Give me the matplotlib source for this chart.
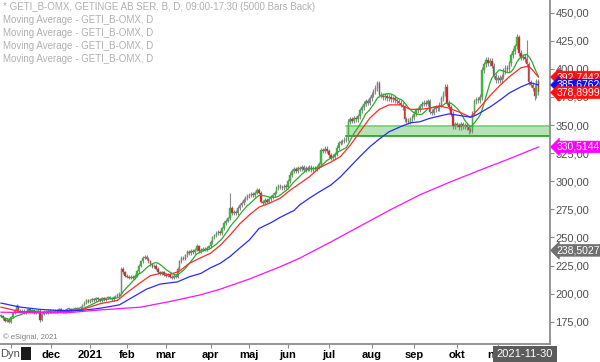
import numpy as np
import pandas as pd
import matplotlib
matplotlib.use("Agg")
import matplotlib.pyplot as plt
import matplotlib.transforms as mtransforms
from matplotlib.patches import Rectangle

plt.rcParams['font.family'] = ['Liberation Sans', 'DejaVu Sans']

# trading days shown (Stockholm holidays removed)
holidays = ['2020-12-24', '2020-12-25', '2020-12-31', '2021-01-01', '2021-01-06',
            '2021-04-02', '2021-04-05', '2021-05-13', '2021-06-25']
dates = pd.bdate_range('2020-10-26', '2021-11-30')
dates = dates[~dates.isin(pd.to_datetime(holidays))]

# daily closes
close = [180, 178, 176, 177, 175, 179, 183, 185, 189, 185, 184, 185, 183, 184, 186, 184, 185, 183, 184, 185,
         177, 182, 184, 183, 185, 184,
         184, 185, 184, 185, 186, 185, 184, 185, 186, 186, 185, 186, 187, 186, 187, 188, 190, 192, 194, 193,
         194,
         195, 194, 196, 195, 194, 196, 195, 196, 197, 196, 195, 197, 198, 199, 200, 222, 219, 216,
         215, 214, 215, 214, 216, 220, 225, 229, 232, 233, 231, 229, 226, 224, 225, 222, 219, 218, 219, 217,
         216, 217, 215, 214, 216, 215, 222, 229, 232, 231,
         234, 237, 236, 238, 237, 239, 242, 238, 239, 240, 239, 241, 242, 246, 250, 252, 254,
         255, 254, 258, 263, 265, 267, 276, 272, 273, 272, 276, 279, 281, 283, 285, 287,
         288, 289, 288, 290, 292, 290, 282, 281, 283, 282, 284, 286, 288, 290, 294, 296, 295, 294, 296, 295,
         300, 306, 309, 311, 309, 312, 311, 313, 310, 312, 311, 313, 310, 312, 311, 313, 315, 328, 327, 329,
         327,
         323, 321, 322, 324, 330, 334, 335, 336, 337, 338, 353, 355, 354, 356, 355, 358, 363, 366, 369, 371,
         370, 374,
         377, 380, 383, 387, 377, 376, 375, 376, 374, 375, 373, 374, 372, 371, 370, 368, 366, 355, 354, 353,
         355, 357,
         360, 363, 364, 367, 369, 370, 369, 371, 362, 361, 364, 366, 365, 368, 374, 378, 384, 370, 366, 360,
         349, 351,
         350, 348, 351, 349, 350, 348, 346, 345, 360, 371, 373, 372, 375, 399, 404, 408, 405, 407, 403, 394,
         390,
         392, 390, 393, 398, 401, 400, 405, 412, 416, 420, 428, 414, 410, 411, 409, 404, 388, 386, 383, 376,
         389, 379]
assert len(close) == len(dates)

# notable wick extremes (bar index: price)
spike_high = {8: 191, 101: 244, 118: 290, 266: 431, 271: 426}
spike_low = {20: 175, 241: 342, 275: 372}

# moving averages (bar index, value)
red_idx = [0, 5, 10, 20, 34, 42, 51, 60, 65, 72, 77, 82, 87, 92, 97, 103, 108, 113, 118, 123, 128, 133, 139,
           144, 149, 154, 159, 164, 170, 175, 180, 185, 190, 195, 200, 206, 211, 216, 221, 226, 231, 237, 242,
           247, 252, 257, 262, 268, 272, 274, 277]
red_ma = [188, 186, 184, 183.5, 184, 186, 191, 194, 201, 210, 216, 218, 217, 220, 227, 232, 236, 243, 252, 262,
          270, 277, 281, 285, 292, 298, 304, 312, 317, 322, 332, 344, 356, 364, 368, 368, 364, 364, 365, 367,
          365, 361, 357, 366, 376, 385, 393, 401, 402.5, 399, 392.7]
blue_idx = [0, 10, 20, 30, 41, 51, 61, 67, 75, 82, 91, 97, 103, 108, 113, 118, 123, 128, 133, 139, 144, 151,
            154, 159, 164, 170, 175, 180, 185, 190, 195, 200, 206, 211, 216, 221, 231, 242, 245, 252, 257, 262,
            268, 273, 277]
blue_ma = [191.6, 188, 186, 185, 185, 187, 190, 196, 204, 208.5, 210.5, 215, 218, 223, 227, 233, 240.5, 247.7,
           258, 263, 268, 274, 279, 285, 290.5, 296.6, 304, 313, 322, 330.5, 337.6, 344, 348.6, 352, 353, 356,
           360, 357, 359, 366, 372, 378.5, 384, 387.6, 385.7]
mag_idx = [0, 20, 34, 51, 72, 87, 103, 113, 128, 144, 154, 170, 185, 200, 216, 231, 247, 262, 277]
mag_ma = [183.5, 183, 183, 185.5, 188, 193, 199, 204, 213, 224, 231.6, 246, 260, 274, 288, 299, 310, 320, 330.5]

# support zone
zone_start = 178
zone_lo, zone_hi = 340.3, 349.2

# price tags on the right axis
tags = [(392.74429, '392,74429', '#ff1010'),
        (385.67620, '385,67620', '#1010ff'),
        (378.89999, '378,89999', '#ff1010'),
        (330.51447, '330,51447', '#ff00ff'),
        (238.50272, '238,50272', '#707070')]

header = ['* GETI_B-OMX, GETINGE AB SER. B, D, 09:00-17:30 (5000 Bars Back)',
          'Moving Average - GETI_B-OMX, D',
          'Moving Average - GETI_B-OMX, D',
          'Moving Average - GETI_B-OMX, D',
          'Moving Average - GETI_B-OMX, D']

month_names = {1: '2021', 2: 'feb', 3: 'mar', 4: 'apr', 5: 'maj', 6: 'jun', 7: 'jul', 8: 'aug',
               9: 'sep', 10: 'okt', 11: 'nov', 12: 'dec'}

# ---- build candles
c = np.array(close, dtype=float)
o = np.r_[c[0], c[:-1]]
wick = 0.006
hi = np.maximum(o, c) * (1 + wick)
lo = np.minimum(o, c) * (1 - wick)
for k, v in spike_high.items():
    hi[k] = v
for k, v in spike_low.items():
    lo[k] = v
x = np.arange(len(c))
green_ma = pd.Series(c).rolling(10, min_periods=1).mean()

fig = plt.figure(figsize=(6, 3.62), dpi=100)
ax = fig.add_axes([0, 18 / 362, 550 / 600, 344 / 362])

ax.vlines(x, lo, hi, color='#8a8a8a', lw=0.8, zorder=2)
up = c >= o
body_h = np.maximum(np.abs(c - o), 0.8)
body_b = np.minimum(o, c)
ax.bar(x[up], body_h[up], bottom=body_b[up], width=0.75, color='#1ed21e',
       edgecolor='#7a7a7a', linewidth=0.3, zorder=3)
ax.bar(x[~up], body_h[~up], bottom=body_b[~up], width=0.75, color='#e01818',
       edgecolor='#7a7a7a', linewidth=0.3, zorder=3)

ax.plot(x, green_ma, color='#2aaa2a', lw=0.9, zorder=4)
ax.plot(red_idx, red_ma, color='#ff2a2a', lw=0.9, zorder=4)
ax.plot(blue_idx, blue_ma, color='#2a2aff', lw=0.9, zorder=4)
ax.plot(mag_idx, mag_ma, color='#ff10ff', lw=0.9, zorder=4)

xmin, xmax = -1 / 1.94, 549 / 1.94
ax.add_patch(Rectangle((zone_start, zone_lo), xmax - zone_start, zone_hi - zone_lo,
                       facecolor='#b6e2b6', edgecolor='none', zorder=1))
ax.plot([zone_start, xmax], [zone_hi, zone_hi], color='#7acb7a', lw=1.2, zorder=1)
ax.plot([zone_start, xmax], [zone_lo, zone_lo], color='#1e9e1e', lw=1.2, zorder=1)

ax.set_xlim(xmin, xmax)
ax.set_ylim(155.2, 461.3)

for s in ['top', 'left']:
    ax.spines[s].set_visible(False)
for s in ['right', 'bottom']:
    ax.spines[s].set_color('#8c8c8c')
    ax.spines[s].set_linewidth(1.3)

yt = np.arange(175, 451, 25)
ax.yaxis.tick_right()
ax.set_yticks(yt)
ax.set_yticklabels([f'{v:.2f}'.replace('.', ',') for v in yt])
ax.tick_params(axis='y', direction='out', length=3, color='#8c8c8c', labelsize=8,
               labelcolor='#505050', pad=1)

# month ticks; the first (Nov 2020) sits under the "Dyn" button and has no label
m = dates.month
starts = [i for i in range(1, len(dates)) if m[i] != m[i - 1]]
xlabels = [month_names[dates[i].month] for i in starts]
xlabels[0] = ''
ax.set_xticks(starts)
ax.set_xticklabels(xlabels, fontweight='bold', fontsize=8, color='black')
ax.tick_params(axis='x', direction='out', length=3, color='#8c8c8c', pad=1)

trans = mtransforms.blended_transform_factory(ax.transAxes, ax.transData)
for val, txt, col in tags:
    ax.text(1.012, val, txt, transform=trans, color='white', fontsize=7.5, va='center', ha='left',
            clip_on=False, zorder=10,
            bbox=dict(boxstyle='larrow,pad=0.08', fc=col, ec=col, lw=0.5))

for k, line in enumerate(header):
    fig.text(3 / 600, 1 - (7 + 13 * k) / 362, line, fontsize=7, color='#b0b0b0', va='center')
fig.text(3 / 600, 1 - 337 / 362, '\u00a9 eSignal, 2021', fontsize=5.5, color='#808080', va='center')

fig.text(0, 8 / 362, 'Dyn', fontsize=8, color='#505050', va='center')
fig.add_artist(Rectangle((21 / 600, 2 / 362), 10 / 600, 13 / 362, transform=fig.transFigure,
                         facecolor='#1a1a1a', edgecolor='none'))
fig.text(525 / 600, 8 / 362, '2021-11-30', fontsize=8, color='white', ha='center', va='center',
         bbox=dict(boxstyle='square,pad=0.3', fc='#5c5c5c', ec='none'))

fig.savefig('out.png', dpi=100)
